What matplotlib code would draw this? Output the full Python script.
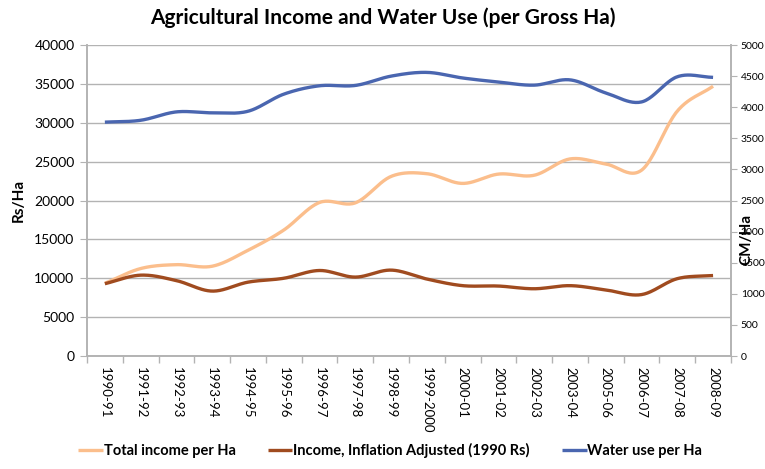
import numpy as np
import matplotlib
matplotlib.use("Agg")
import matplotlib.pyplot as plt

plt.rcParams['font.family'] = ['Lato', 'DejaVu Sans']

years = ['1990-91', '1991-92', '1992-93', '1993-94', '1994-95', '1995-96',
         '1996-97', '1997-98', '1998-99', '1999-2000', '2000-01', '2001-02',
         '2002-03', '2003-04', '2005-06', '2006-07', '2007-08', '2008-09']
total_income = [9350, 11250, 11750, 11550, 13600, 16200, 19750, 19700, 23100,
                23450, 22200, 23400, 23250, 25350, 24700, 23900, 31500, 34700]
income_real = [9300, 10400, 9700, 8350, 9500, 10000, 11000, 10150, 11050,
               9900, 9050, 9000, 8650, 9050, 8500, 7900, 9950, 10350]
water_use = [3760, 3790, 3925, 3910, 3935, 4210, 4345, 4350, 4500,
             4560, 4470, 4405, 4355, 4440, 4230, 4085, 4490, 4480]


def smooth(x, y, steps=24):
    # Catmull-Rom curve through every point, like a spreadsheet "smoothed line"
    x = np.asarray(x, float)
    y = np.asarray(y, float)
    px = np.concatenate([[2 * x[0] - x[1]], x, [2 * x[-1] - x[-2]]])
    py = np.concatenate([[2 * y[0] - y[1]], y, [2 * y[-1] - y[-2]]])
    t = np.linspace(0, 1, steps, endpoint=False)
    xs, ys = [], []
    for i in range(1, len(px) - 2):
        for p, out in ((px, xs), (py, ys)):
            p0, p1, p2, p3 = p[i - 1], p[i], p[i + 1], p[i + 2]
            out.append(0.5 * (2 * p1 + (p2 - p0) * t
                              + (2 * p0 - 5 * p1 + 4 * p2 - p3) * t ** 2
                              + (3 * p1 - p0 - 3 * p2 + p3) * t ** 3))
    xs.append([x[-1]])
    ys.append([y[-1]])
    return np.concatenate(xs), np.concatenate(ys)


c_total = '#FBBE8C'
c_real = '#A04B1F'
c_water = '#4A66B0'
grid_c = '#B3B3B3'

fig = plt.figure(figsize=(7.65, 4.69), dpi=100)
ax = fig.add_axes([0.1137, 0.2409, 0.8418, 0.6631])
ax2 = ax.twinx()

x = np.arange(len(years))
l1, = ax.plot(*smooth(x, total_income), color=c_total, lw=2.4,
              solid_capstyle='butt', label='Total income per Ha')
l2, = ax.plot(*smooth(x, income_real), color=c_real, lw=2.4,
              solid_capstyle='butt', label='Income, Inflation Adjusted (1990 Rs)')
l3, = ax2.plot(*smooth(x, water_use), color=c_water, lw=2.4,
               solid_capstyle='butt', label='Water use per Ha')

ax.set_xlim(-0.5, len(years) - 0.5)
ax.set_ylim(0, 40000)
ax.set_yticks(np.arange(0, 40001, 5000))
ax2.set_ylim(0, 5000)
ax2.set_yticks(np.arange(0, 5001, 500))

ax.yaxis.grid(True, color=grid_c, lw=1)
ax.set_axisbelow(True)

ax.set_xticks(x)
ax.set_xticklabels(years, rotation=-90, fontsize=9.5)
ax.set_xticks(np.arange(-0.5, len(years)), minor=True)
ax.tick_params(axis='x', which='major', length=0, pad=8)
ax.tick_params(axis='x', which='minor', length=5, color=grid_c, width=1)
ax.tick_params(axis='y', length=5, color=grid_c, labelsize=10, pad=4)
ax2.tick_params(axis='y', length=4, color=grid_c, labelsize=7.5, pad=3)

for a in (ax, ax2):
    a.spines['top'].set_visible(False)
    for s in ('left', 'right', 'bottom'):
        a.spines[s].set_color(grid_c)
        a.spines[s].set_linewidth(1.2)

ax.set_ylabel('Rs/Ha', fontsize=11, fontweight='bold', labelpad=6)
fig.text(0.975, 0.49, 'CM/Ha', rotation=90, fontsize=11, fontweight='bold',
         ha='center', va='center')

fig.suptitle('Agricultural Income and Water Use (per Gross Ha)', x=0.5, y=0.985,
             fontsize=15, fontweight='bold')

fig.legend(handles=[l1, l2, l3], loc='lower center', bbox_to_anchor=(0.51, -0.005),
           ncol=3, frameon=False, handlelength=1.7, handletextpad=0.05,
           columnspacing=2.2, prop={'weight': 'bold', 'size': 10.5})

fig.savefig('out.png', dpi=100)
